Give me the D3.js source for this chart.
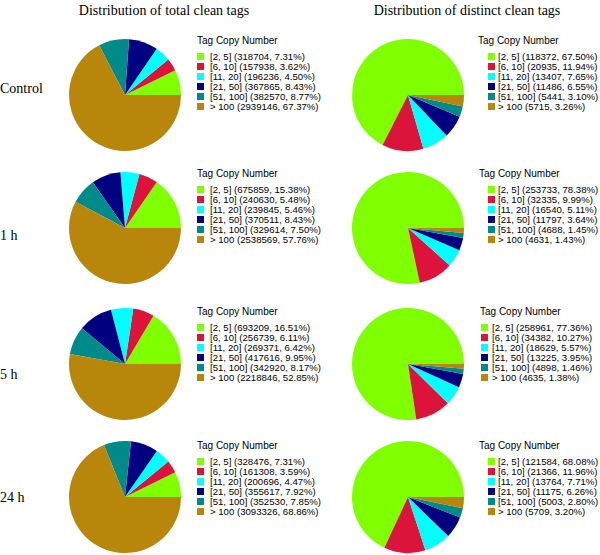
<!DOCTYPE html>
<html><head><meta charset="utf-8">
<script src="https://cdn.jsdelivr.net/npm/d3@7"></script>
<style>body{margin:0;background:#fff}svg{display:block}</style>
</head><body>
<script>
const categories = ["[2, 5]", "[6, 10]", "[11, 20]", "[21, 50]", "[51, 100]", "> 100"];
const rowLabels = ["Control", "1 h", "5 h", "24 h"];
const columnTitles = ["Distribution of total clean tags", "Distribution of distinct clean tags"];
const legendTitle = "Tag Copy Number";
const colors = ["#7FFF00", "#DC143C", "#00FFFF", "#000080", "#008B8B", "#B8860B"];

const totalValues = [
  [318704, 157938, 196236, 367865, 382570, 2939146],
  [675859, 240630, 239845, 370511, 329614, 2538569],
  [693209, 256739, 269371, 417616, 342920, 2218846],
  [328476, 161308, 200696, 355617, 352530, 3093326]
];
const totalPercents = [
  ["7.31", "3.62", "4.50", "8.43", "8.77", "67.37"],
  ["15.38", "5.48", "5.46", "8.43", "7.50", "57.76"],
  ["16.51", "6.11", "6.42", "9.95", "8.17", "52.85"],
  ["7.31", "3.59", "4.47", "7.92", "7.85", "68.86"]
];
const distinctValues = [
  [118372, 20935, 13407, 11486, 5441, 5715],
  [253733, 32335, 16540, 11797, 4688, 4631],
  [258961, 34382, 18629, 13225, 4898, 4635],
  [121584, 21366, 13764, 11175, 5003, 5709]
];
const distinctPercents = [
  ["67.50", "11.94", "7.65", "6.55", "3.10", "3.26"],
  ["78.38", "9.99", "5.11", "3.64", "1.45", "1.43"],
  ["77.36", "10.27", "5.57", "3.95", "1.46", "1.38"],
  ["68.08", "11.96", "7.71", "6.26", "2.80", "3.20"]
];

// layout
const W = 600, H = 555;
const rowY = [95, 228, 364, 497];
const rowLabelY = [93, 240, 379, 502];
const legendTitleY = [44, 177, 315, 449];
const pieX = [125, 408];
const R = 56;
// legend layout per column / row: title x, square x, text x
const legendLayout = [
  [[197, 197, 210], [197, 197, 210], [197, 197, 210], [197, 197, 210]],
  [[478, 488, 498], [479, 488, 498], [480, 481, 492], [479, 488, 498]]
];

const svg = d3.select("body").append("svg").attr("width", W).attr("height", H);

svg.selectAll("text.coltitle").data(columnTitles).join("text")
  .attr("class", "coltitle")
  .attr("x", (d, i) => [164, 467][i]).attr("y", 15)
  .attr("text-anchor", "middle")
  .style("font-family", "'Liberation Serif', 'Times New Roman', serif")
  .style("font-size", "14px").attr("fill", "#000").text(d => d);

svg.selectAll("text.rowlabel").data(rowLabels).join("text")
  .attr("class", "rowlabel")
  .attr("x", 0).attr("y", (d, i) => rowLabelY[i])
  .style("font-family", "'Liberation Serif', 'Times New Roman', serif")
  .style("font-size", "14px").attr("fill", "#000").text(d => d);

const pie = d3.pie().sort(null).startAngle(Math.PI / 2).endAngle(Math.PI / 2 - 2 * Math.PI);
const arc = d3.arc().innerRadius(0).outerRadius(R);
const color = d3.scaleOrdinal().domain(categories).range(colors);

const datasets = [[totalValues, totalPercents], [distinctValues, distinctPercents]];

datasets.forEach(([vals, pcts], c) => {
  vals.forEach((rowVals, r) => {
    const g = svg.append("g").attr("transform", `translate(${pieX[c]},${rowY[r]})`);
    g.selectAll("path").data(pie(rowVals)).join("path")
      .attr("d", arc).attr("fill", (d, i) => color(categories[i]));

    const [tx, sx, txx] = legendLayout[c][r];
    const ty = legendTitleY[r];
    svg.append("text").attr("x", tx).attr("y", ty)
      .style("font-family", "'Liberation Sans', Arial, sans-serif")
      .style("font-size", "10px").attr("fill", "#000").text(legendTitle);
    const items = svg.append("g").selectAll("g.item").data(categories).join("g")
      .attr("class", "item")
      .attr("transform", (d, i) => `translate(0,${ty + 16 + i * 10})`);
    items.append("rect").attr("x", sx).attr("y", -7).attr("width", 7).attr("height", 7)
      .attr("fill", d => color(d));
    items.append("text").attr("x", txx).attr("y", 0)
      .style("font-family", "'Liberation Sans', Arial, sans-serif")
      .style("font-size", "9.6px").attr("fill", "#000")
      .text((d, i) => `${d} (${rowVals[i]}, ${pcts[r][i]}%)`);
  });
});
</script>
</body></html>
